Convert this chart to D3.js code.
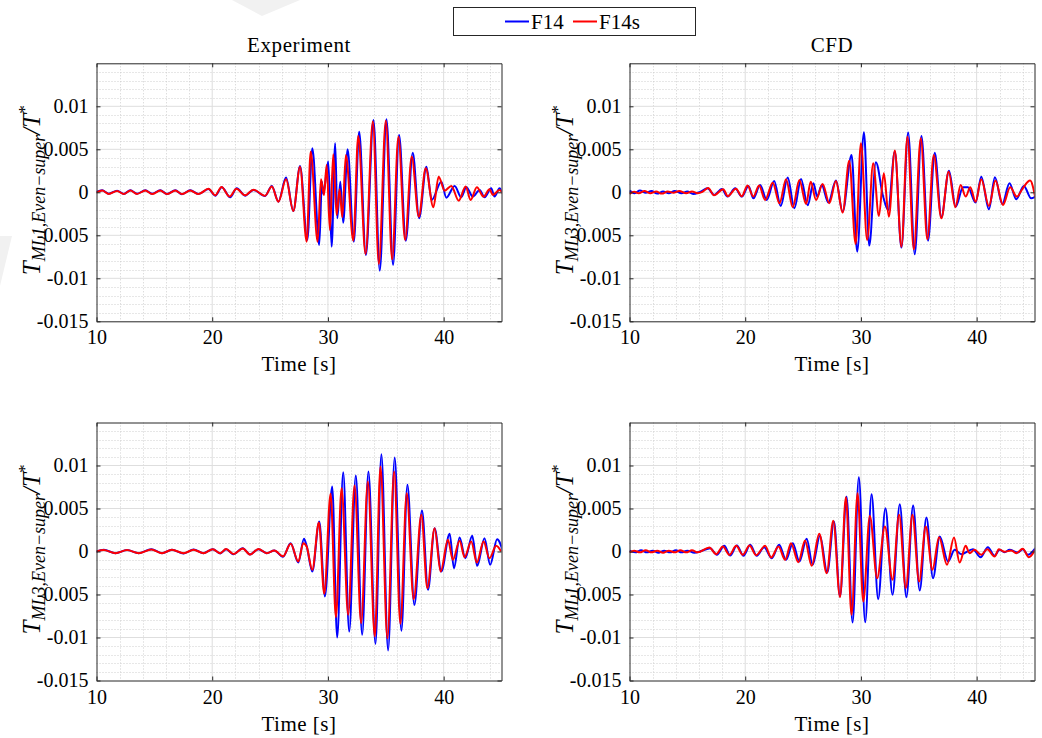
<!DOCTYPE html>
<html>
<head>
<meta charset="utf-8">
<script src="https://cdn.jsdelivr.net/npm/d3@7/dist/d3.min.js"></script>
<style>
  html, body { margin: 0; padding: 0; background: #ffffff; }
  svg { display: block; }
  svg text { font-family: "Liberation Serif", "DejaVu Serif", "Times New Roman", serif; }
</style>
</head>
<body>
<svg id="chart" width="1042" height="738"></svg>
<script>
// ---- Data: time [s] and normalised torque (values in units of 1e-3) ----
const VALUE_UNIT = 1e-3;

const seriesNames = ["F14", "F14s"];
const seriesColors = ["#0000ff", "#ff0000"];
const columnTitles = ["Experiment", "CFD"];
const xLabel = "Time [s]";

const xTicks = [10, 20, 30, 40];
const yTicks = [-0.015, -0.01, -0.005, 0, 0.005, 0.01];
const yTickLabels = ["-0.015", "-0.01", "-0.005", "0", "0.005", "0.01"];

// Experiment, ML1
const expML1F14 = [
  [10.0,0.04],[10.49,0.23],[11.06,-0.16],[11.78,0.19],[12.35,-0.19],[12.93,0.23],[13.5,-0.16],
  [14.22,0.23],[14.8,-0.16],[15.51,0.23],[16.09,-0.19],[16.81,0.23],[17.38,-0.23],[18.1,0.23],
  [18.82,-0.19],[19.68,0.39],[20.26,-0.39],[20.83,0.58],[21.55,-0.58],[22.12,0.47],[22.84,-0.39],
  [23.56,0.27],[24.57,-0.43],[25.15,0.74],[25.72,-1.09],[26.38,1.71],[27.01,-2.17],[27.59,3.06],
  [28.22,-5.54],[28.65,5.12],[29.25,-6.12],[29.48,1.24],[29.6,-0.19],[30.03,3.57],[30.32,-6.32],
  [30.63,5.70],[30.81,-3.02],[31.07,1.24],[31.32,-3.53],[31.7,5.0],[32.24,-5.74],[32.7,7.05],
  [33.28,-7.29],[33.94,8.41],[34.48,-9.11],[35.06,8.49],[35.63,-8.45],[36.15,6.67],[36.73,-5.62],
  [37.33,4.61],[37.88,-3.02],[38.51,2.98],[38.97,-0.89],[39.8,1.24],[40.23,-0.62],[40.95,0.74],
  [41.52,-0.58],[41.96,0.58],[42.53,-0.5],[43.11,0.27],[43.54,-0.58],[44.11,0.47],[44.4,-0.5],
  [44.83,0.47],[45.12,-0.12]
];
const expML1F14s = [
  [10.0,0.0],[10.49,0.2],[11.06,-0.19],[11.78,0.16],[12.35,-0.2],[12.93,0.2],[13.5,-0.19],
  [14.22,0.2],[14.8,-0.2],[15.51,0.2],[16.09,-0.2],[16.81,0.2],[17.38,-0.2],[18.1,0.2],
  [18.82,-0.2],[19.68,0.42],[20.26,-0.35],[20.8,0.62],[21.5,-0.5],[22.1,0.4],[22.84,-0.35],
  [23.56,0.3],[24.57,-0.4],[25.15,0.66],[25.72,-1.09],[26.38,1.51],[27.01,-2.17],[27.59,2.98],
  [28.16,-5.74],[28.51,4.73],[29.11,-5.74],[29.4,1.51],[29.66,-0.31],[29.89,3.18],[30.17,-4.38],
  [30.46,4.42],[30.75,-2.64],[31.01,0.35],[31.24,-2.91],[31.55,4.34],[32.19,-5.62],[32.62,6.55],
  [33.25,-7.17],[33.88,8.22],[34.4,-8.33],[35.0,8.33],[35.55,-7.79],[36.09,6.47],[36.67,-5.54],
  [37.24,4.15],[37.85,-2.83],[38.45,2.79],[39.11,-1.74],[39.57,1.82],[40.09,0.19],[40.66,0.74],
  [41.3,-0.97],[41.9,0.66],[42.33,-0.89],[42.87,0.58],[43.45,-0.5],[43.97,0.35],[44.25,-0.31],
  [44.83,0.27],[45.12,-0.19]
];

// CFD, ML3
const cfdML3F14 = [
  [10.0,0.2],[10.45,-0.1],[10.9,0.2],[11.4,-0.05],[11.9,0.15],[12.4,-0.15],[12.9,0.1],[13.4,-0.1],
  [13.9,0.15],[14.5,-0.1],[15.0,0.1],[15.5,-0.2],[16.1,0.05],[16.75,0.47],[17.32,-0.31],[17.98,0.39],
  [18.47,-0.5],[19.13,0.47],[19.71,-0.5],[20.28,0.74],[20.71,-0.7],[21.29,0.85],[21.86,-0.89],
  [22.5,1.32],[23.07,-1.59],[23.67,1.71],[24.25,-1.86],[24.82,1.55],[25.4,-1.51],[25.89,1.05],
  [26.23,-0.5],[26.61,0.85],[27.18,-1.2],[27.84,1.36],[28.42,-2.25],[29.19,4.34],[29.68,-6.9],
  [30.26,6.98],[30.72,-6.2],[31.29,3.49],[31.92,-0.5],[32.35,-2.05],[32.93,4.73],[33.5,-6.43],
  [34.08,6.94],[34.65,-7.21],[35.23,6.55],[35.8,-5.62],[36.38,4.61],[36.95,-2.91],[37.61,2.52],
  [38.19,-1.67],[38.82,0.58],[39.25,0.58],[39.91,-1.2],[40.4,1.82],[41.06,-1.98],[41.58,1.74],
  [42.21,-1.36],[42.84,1.05],[43.42,-0.81],[44.08,0.74],[44.71,-0.7],[45.08,-0.5]
];
const cfdML3F14s = [
  [10.0,-0.2],[10.4,0.05],[10.8,-0.1],[11.3,0.15],[11.8,-0.1],[12.3,0.1],[12.8,-0.15],[13.3,0.1],
  [13.8,-0.05],[14.3,0.15],[14.9,-0.1],[15.4,0.1],[15.9,-0.1],[16.3,0.05],[16.8,0.5],[17.3,-0.35],
  [18.1,0.35],[18.5,-0.45],[19.2,0.42],[19.7,-0.45],[20.2,0.8],[20.7,-0.5],[21.2,0.8],[21.72,-0.89],
  [22.38,1.12],[22.96,-1.28],[23.53,1.51],[24.11,-1.74],[24.68,1.43],[25.26,-1.36],[25.66,1.24],
  [26.12,-0.89],[26.69,0.97],[27.27,-1.28],[27.84,1.32],[28.42,-2.36],[28.99,3.68],[29.54,-6.01],
  [30.0,5.7],[30.54,-5.54],[31.06,3.37],[31.55,-2.75],[31.98,2.21],[32.41,-2.83],[32.93,4.85],
  [33.5,-6.32],[34.02,6.47],[34.57,-6.63],[35.17,6.28],[35.74,-5.47],[36.29,4.34],[36.95,-3.02],
  [37.58,2.4],[38.16,-1.74],[38.62,0.85],[39.05,-0.5],[39.45,0.58],[39.91,-1.09],[40.4,1.51],
  [41.06,-1.59],[41.63,1.36],[42.27,-1.47],[42.9,0.58],[43.47,-0.5],[43.99,0.47],[44.62,1.36],
  [45.08,-0.7]
];

// Experiment, ML3
const expML3F14 = [
  [10.0,0.0],[10.63,0.19],[11.64,-0.19],[12.64,0.16],[13.65,-0.19],[14.74,0.27],[15.66,-0.19],
  [16.52,0.19],[17.53,-0.23],[18.39,0.23],[19.25,-0.19],[20.05,0.27],[20.69,-0.23],[21.2,0.27],
  [21.84,-0.31],[22.64,0.39],[23.27,-0.35],[23.99,0.27],[24.71,-0.19],[25.37,0.12],[26.12,-0.62],
  [26.78,0.97],[27.44,-1.28],[27.93,1.47],[28.16,0.66],[28.65,-2.33],[29.25,3.49],[29.74,-5.23],
  [30.37,7.56],[30.8,-10.0],[31.32,9.22],[31.84,-9.3],[32.41,8.84],[32.96,-9.69],[33.5,9.3],
  [34.11,-10.74],[34.62,11.32],[35.2,-11.51],[35.77,10.93],[36.35,-9.22],[36.87,7.75],[37.47,-6.2],
  [38.13,4.77],[38.65,-4.46],[39.22,2.71],[39.8,-2.33],[40.52,2.05],[40.89,-1.94],[41.38,1.63],
  [41.87,-0.78],[42.47,1.82],[42.9,-1.67],[43.53,1.55],[44.02,-1.55],[44.62,1.43],[45.17,-0.19]
];
const expML3F14s = [
  [10.0,0.0],[10.63,0.16],[11.64,-0.2],[12.64,0.16],[13.65,-0.2],[14.74,0.23],[15.66,-0.2],
  [16.52,0.2],[17.53,-0.2],[18.39,0.2],[19.25,-0.2],[20.05,0.27],[20.69,-0.2],[21.2,0.3],
  [21.84,-0.3],[22.64,0.35],[23.27,-0.35],[23.99,0.3],[24.71,-0.2],[25.37,0.12],[26.12,-0.55],
  [26.78,0.89],[27.44,-1.16],[27.87,0.97],[28.16,0.58],[28.65,-2.13],[29.22,3.37],[29.68,-4.92],
  [30.23,6.71],[30.69,-7.64],[31.18,7.36],[31.75,-7.36],[32.3,7.67],[32.87,-8.33],[33.45,8.14],
  [34.05,-9.88],[34.54,9.88],[35.14,-10.08],[35.72,9.3],[36.26,-8.41],[36.81,6.78],[37.41,-5.54],
  [38.07,4.26],[38.59,-4.26],[39.22,2.71],[39.74,-2.33],[40.37,1.36],[40.8,-0.97],[41.38,1.24],
  [41.81,-0.66],[42.38,1.16],[42.87,-1.28],[43.45,1.16],[43.96,-0.78],[44.54,0.66],[44.97,0.0]
];

// CFD, ML1
const cfdML1F14 = [
  [10.0,0.1],[10.5,-0.1],[11.0,0.15],[11.5,-0.1],[12.0,0.1],[12.5,-0.15],[13.0,0.1],[13.5,-0.1],
  [14.0,0.15],[14.5,-0.1],[15.0,0.1],[15.6,-0.15],[16.2,0.05],[16.98,0.39],[17.55,-0.39],
  [18.19,0.66],[18.7,-0.47],[19.28,0.7],[19.85,-0.5],[20.43,0.78],[21.0,-0.5],[21.63,0.5],
  [22.3,-0.78],[22.93,0.78],[23.53,-0.97],[24.11,0.97],[24.68,-1.16],[25.31,1.47],[25.83,-1.55],
  [26.46,1.82],[27.09,-2.44],[27.67,3.49],[28.19,-5.23],[28.76,6.4],[29.28,-8.26],[29.82,8.64],
  [30.37,-8.22],[30.92,6.67],[31.49,-5.54],[32.12,5.04],[32.73,-5.04],[33.36,5.5],[33.93,-5.31],
  [34.51,5.35],[35.08,-4.53],[35.66,3.95],[36.23,-3.1],[36.81,1.74],[37.53,-1.16],[38.1,0.19],
  [38.68,-0.31],[39.68,0.27],[40.34,-0.66],[40.97,0.5],[41.55,-0.5],[41.98,0.19],[42.41,-0.08],
  [42.84,0.19],[43.56,-0.12],[43.99,0.27],[44.42,-0.39],[45.08,0.39]
];
const cfdML1F14s = [
  [10.0,-0.1],[10.4,0.1],[10.9,-0.1],[11.4,0.15],[11.9,-0.1],[12.4,0.1],[12.9,-0.15],[13.4,0.1],
  [13.9,-0.1],[14.4,0.15],[14.9,-0.1],[15.4,0.15],[15.9,-0.1],[16.9,0.47],[17.5,-0.31],[18.07,0.58],
  [18.64,-0.39],[19.22,0.66],[19.79,-0.39],[20.37,0.7],[20.94,-0.43],[21.72,0.66],[22.24,-0.7],
  [22.87,0.58],[23.45,-0.97],[23.96,0.97],[24.59,-1.24],[25.17,1.28],[25.74,-1.67],[26.4,2.05],
  [27.04,-2.52],[27.61,3.57],[28.19,-5.31],[28.7,6.32],[29.19,-7.36],[29.71,6.78],[30.2,-5.81],
  [30.77,4.15],[31.4,-3.1],[32.07,2.91],[32.73,-3.29],[33.3,4.26],[33.88,-4.26],[34.45,4.26],
  [35.03,-3.49],[35.6,2.91],[36.18,-2.13],[36.75,1.67],[37.44,-1.55],[38.04,1.63],[38.53,-1.28],
  [39.05,0.66],[39.39,-0.19],[39.82,0.19],[40.4,-0.39],[40.92,0.27],[41.55,-0.58],[41.92,0.27],
  [42.41,-0.04],[42.99,0.12],[43.42,-0.19],[43.99,0.31],[44.51,-0.66],[45.08,0.27]
];

const panels = [
  { col: 0, row: 0, probe: "ML1", series: [expML1F14, expML1F14s] },
  { col: 1, row: 0, probe: "ML3", series: [cfdML3F14, cfdML3F14s] },
  { col: 0, row: 1, probe: "ML3", series: [expML3F14, expML3F14s] },
  { col: 1, row: 1, probe: "ML1", series: [cfdML1F14, cfdML1F14s] }
];

// ---- Layout ----
const svg = d3.select("#chart");
const colLeft = [96.5, 629.5];
const rowTop = [63.3, 422.5];
const plotW = 405, plotH = 258;
const axisColor = "#262626";
const serif = "Liberation Serif, DejaVu Serif, Times New Roman, serif";

// faint background marks
const bg = svg.append("g").attr("fill", "#f1f1f1");
bg.append("path").attr("d", "M232,0 L300,0 L262,16 Z");
bg.append("path").attr("d", "M0,236 L12,236 L0,286 Z");

panels.forEach((p, i) => {
  const x0 = colLeft[p.col], y0 = rowTop[p.row];
  const x = d3.scaleLinear().domain([10, 45]).range([x0, x0 + plotW]);
  const y = d3.scaleLinear().domain([-0.015, 0.015]).range([y0 + plotH, y0]);
  const g = svg.append("g").attr("font-family", serif);

  // minor grid
  const minorX = d3.range(12, 45, 2).filter(v => v % 10 !== 0);
  const minorY = d3.range(-14, 15, 1).filter(v => v % 5 !== 0).map(v => v * 1e-3);
  g.append("g").selectAll("line").data(minorX).join("line")
    .attr("x1", d => Math.round(x(d)) + 0.5).attr("x2", d => Math.round(x(d)) + 0.5)
    .attr("y1", y0).attr("y2", y0 + plotH)
    .attr("stroke", "#cfcfcf").attr("stroke-width", 1).attr("stroke-dasharray", "1,2");
  g.append("g").selectAll("line").data(minorY).join("line")
    .attr("y1", d => Math.round(y(d)) + 0.5).attr("y2", d => Math.round(y(d)) + 0.5)
    .attr("x1", x0).attr("x2", x0 + plotW)
    .attr("stroke", "#cfcfcf").attr("stroke-width", 1).attr("stroke-dasharray", "1,2");

  // major grid
  g.append("g").selectAll("line").data(xTicks.slice(1)).join("line")
    .attr("x1", d => x(d)).attr("x2", d => x(d))
    .attr("y1", y0).attr("y2", y0 + plotH)
    .attr("stroke", "#dedede").attr("stroke-width", 1);
  g.append("g").selectAll("line").data(yTicks.slice(1)).join("line")
    .attr("y1", d => y(d)).attr("y2", d => y(d))
    .attr("x1", x0).attr("x2", x0 + plotW)
    .attr("stroke", "#dedede").attr("stroke-width", 1);

  // series
  const clipId = "clip" + i;
  svg.append("clipPath").attr("id", clipId).append("rect")
    .attr("x", x0).attr("y", y0).attr("width", plotW).attr("height", plotH);
  const line = d3.line()
    .x(d => x(d[0])).y(d => y(d[1] * VALUE_UNIT))
    .curve(d3.curveMonotoneX);
  const lines = g.append("g").attr("clip-path", `url(#${clipId})`);
  p.series.forEach((s, k) => {
    lines.append("path").datum(s).attr("d", line)
      .attr("fill", "none").attr("stroke", seriesColors[k])
      .attr("stroke-width", 2).attr("stroke-linejoin", "round");
  });

  // axes (box with inward ticks on all sides)
  const tick = 4;
  const axB = d3.axisBottom(x).tickValues(xTicks).tickSizeInner(-tick).tickSizeOuter(0).tickPadding(9);
  const axT = d3.axisTop(x).tickValues(xTicks).tickSizeInner(-tick).tickSizeOuter(0).tickFormat("");
  const axL = d3.axisLeft(y).tickValues(yTicks).tickSizeInner(-tick).tickSizeOuter(0).tickPadding(8)
    .tickFormat((d, j) => yTickLabels[j]);
  const axR = d3.axisRight(y).tickValues(yTicks).tickSizeInner(-tick).tickSizeOuter(0).tickFormat("");

  const styleAxis = sel => {
    sel.attr("font-family", serif);
    sel.select(".domain").attr("stroke", axisColor).attr("stroke-width", 1);
    sel.selectAll(".tick line").attr("stroke", axisColor).attr("stroke-width", 1);
    sel.selectAll(".tick text").attr("fill", "#000").attr("font-size", 20);
  };
  g.append("g").attr("transform", `translate(0,${y0 + plotH})`).call(axB).call(styleAxis);
  g.append("g").attr("transform", `translate(0,${y0})`).call(axT).call(styleAxis);
  g.append("g").attr("transform", `translate(${x0},0)`).call(axL).call(styleAxis);
  g.append("g").attr("transform", `translate(${x0 + plotW},0)`).call(axR).call(styleAxis);

  // x label
  g.append("text").attr("x", x0 + plotW / 2).attr("y", y0 + plotH + 50)
    .attr("text-anchor", "middle").attr("font-size", 21).attr("letter-spacing", 0.5)
    .text(xLabel);

  // y label: T_{probe,Even−super}/T^*
  const yl = g.append("text")
    .attr("transform", `translate(${x0 - 57},${y0 + plotH / 2 - 2}) rotate(-90)`)
    .attr("text-anchor", "middle").attr("font-style", "italic").attr("font-size", 25);
  yl.append("tspan").text("T");
  yl.append("tspan").attr("font-size", 18).attr("dy", 5).text(p.probe + ",Even\u2212super");
  yl.append("tspan").attr("dy", -5).text("/T");
  yl.append("tspan").attr("font-size", 17).attr("font-style", "normal").attr("dy", -10).text("*");

  // column titles
  if (p.row === 0) {
    g.append("text").attr("x", x0 + plotW / 2).attr("y", 52)
      .attr("text-anchor", "middle").attr("font-size", 21).attr("letter-spacing", 0.6)
      .text(columnTitles[p.col]);
  }
});

// ---- Legend ----
const lg = svg.append("g").attr("font-family", serif);
lg.append("rect").attr("x", 453.5).attr("y", 7.5).attr("width", 242).attr("height", 28)
  .attr("fill", "#fff").attr("stroke", axisColor).attr("stroke-width", 1);
const legendX = [505, 573];
seriesNames.forEach((name, k) => {
  lg.append("line").attr("x1", legendX[k]).attr("x2", legendX[k] + 24)
    .attr("y1", 21.5).attr("y2", 21.5).attr("stroke", seriesColors[k]).attr("stroke-width", 2);
  lg.append("text").attr("x", legendX[k] + 26).attr("y", 29)
    .attr("font-size", 21).text(name);
});
</script>
</body>
</html>
